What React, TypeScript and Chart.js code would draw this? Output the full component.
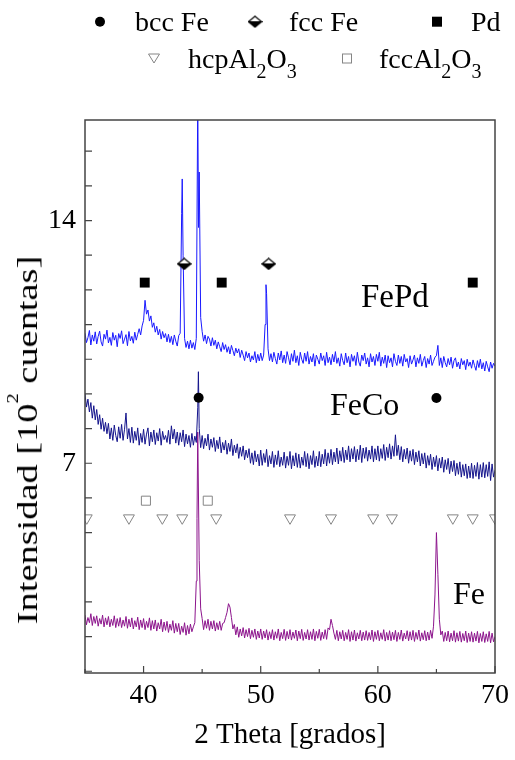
import React, { useEffect, useRef } from 'react';
import { Chart, registerables } from 'chart.js';

Chart.register(...registerables);

// ---- axes ----
const X_MIN = 35;
const X_MAX = 70;
const Y_MIN = 0.95;
const Y_MAX = 16.9;
const xTickValues = [35, 40, 45, 50, 55, 60, 65, 70];
const xTickLabels = ['', '40', '', '50', '', '60', '', '70'];
const yTickValues = [1, 2, 3, 4, 5, 6, 7, 8, 9, 10, 11, 12, 13, 14, 15, 16];
const yTickLabelValues = [7, 14];

// ---- scans (2θ from 35° in steps of 0.125°, one row per degree) ----
const scanStart = 35;
const scanStep = 0.125;

const fepdScan = [
  10.75, 10.48, 10.62, 10.83, 10.41, 10.70, 10.52, 10.79,
  10.44, 10.66, 10.81, 10.50, 10.38, 10.72, 10.58, 10.84,
  10.47, 10.63, 10.40, 10.77, 10.55, 10.69, 10.36, 10.74,
  10.60, 10.82, 10.45, 10.58, 10.71, 10.39, 10.80, 10.53,
  10.66, 10.46, 10.78, 10.55, 10.72, 10.88, 10.70, 10.96,
  11.12, 11.70, 11.30, 11.42, 11.10, 11.25, 10.92, 11.05,
  10.78, 10.95, 10.70, 10.86, 10.58, 10.80, 10.62, 10.74,
  10.50, 10.72, 10.48, 10.66, 10.42, 10.70, 10.52, 10.38,
  10.68, 10.75, 14.20, 13.00, 10.60, 10.34, 10.52, 10.30,
  10.55, 10.32, 10.48, 10.28, 10.60, 17.60, 15.40, 11.20,
  10.80, 10.52, 10.70, 10.45, 10.66, 10.58, 10.38, 10.62,
  10.40, 10.55, 10.30, 10.50, 10.36, 10.22, 10.48, 10.28,
  10.42, 10.20, 10.36, 10.15, 10.40, 10.25, 10.10, 10.32,
  10.18, 10.30, 10.05, 10.26, 10.12, 9.96, 10.22, 10.04,
  10.18, 9.92, 10.10, 9.98, 10.22, 9.90, 10.14, 9.95,
  10.18, 9.96, 10.12, 11.00, 11.90, 10.30, 9.96, 10.16,
  9.92, 10.20, 10.02, 9.86, 10.18, 9.98, 10.24, 9.90,
  10.12, 9.88, 10.22, 10.04, 9.84, 10.16, 9.94, 10.26,
  9.90, 10.10, 9.82, 10.20, 10.00, 9.88, 10.18, 9.94,
  10.22, 9.86, 10.08, 9.92, 10.16, 9.80, 10.12, 10.00,
  9.86, 10.18, 9.96, 10.10, 9.82, 10.20, 9.90, 10.06,
  9.84, 10.14, 9.92, 10.22, 9.88, 10.04, 9.80, 10.16,
  9.96, 9.84, 10.18, 9.90, 10.08, 9.78, 10.14, 9.94,
  10.10, 9.82, 10.20, 9.92, 9.80, 10.12, 9.96, 10.18,
  9.86, 10.04, 9.78, 10.16, 9.92, 10.08, 9.82, 10.14,
  9.94, 10.20, 9.80, 10.06, 9.88, 10.12, 9.76, 10.10,
  9.90, 10.04, 9.78, 10.16, 9.94, 9.82, 10.12, 9.88,
  10.08, 9.80, 10.14, 9.92, 10.02, 9.76, 10.10, 9.86,
  9.98, 10.12, 9.78, 10.04, 9.88, 10.14, 9.80, 9.96,
  10.08, 9.76, 10.02, 9.86, 10.12, 9.82, 9.94, 10.06,
  10.10, 10.40, 9.82, 10.04, 9.76, 10.08, 9.90, 9.78,
  10.02, 9.84, 10.06, 9.74, 9.96, 10.04, 9.78, 9.92,
  9.72, 10.02, 9.84, 9.96, 9.70, 10.00, 9.80, 9.92,
  9.74, 9.98, 9.82, 9.68, 9.96, 9.76, 10.00, 9.72,
  9.90, 9.66, 9.94, 9.78, 9.64, 9.92, 9.74, 9.88,
  9.80,
];
const fepdPeaks = [[43.3, 15.2], [44.69, 13.8], [50.45, 12.15]];

const fecoScan = [
  9.00, 8.62, 8.85, 8.48, 8.75, 8.30, 8.66, 8.25,
  8.55, 8.12, 8.40, 7.98, 8.30, 7.92, 8.18, 7.85,
  8.15, 7.70, 8.02, 7.66, 8.10, 7.80, 7.62, 8.05,
  7.72, 8.12, 7.66, 7.98, 8.45, 7.70, 8.00, 7.60,
  8.04, 7.58, 7.92, 7.66, 8.02, 7.52, 7.86, 7.60,
  7.98, 7.55, 7.84, 8.02, 7.50, 7.90, 7.62, 7.96,
  7.54, 7.88, 7.64, 8.00, 7.52, 7.92, 7.68, 7.80,
  7.60, 7.95, 7.55, 8.08, 7.70, 7.98, 7.58, 7.90,
  7.52, 7.88, 7.62, 7.96, 7.48, 7.84, 7.56, 7.80,
  7.46, 7.86, 7.52, 7.78, 7.60, 8.60, 8.00, 7.45,
  7.80, 7.42, 7.72, 7.50, 7.84, 7.38, 7.70, 7.46,
  7.74, 7.34, 7.66, 7.42, 7.76, 7.30, 7.60, 7.38,
  7.66, 7.26, 7.58, 7.34, 7.70, 7.22, 7.52, 7.30,
  7.56, 7.14, 7.46, 7.20, 7.50, 7.10, 7.38, 7.16,
  7.42, 7.00, 7.30, 6.96, 7.36, 7.04, 7.26, 6.92,
  7.38, 6.94, 7.28, 7.02, 7.40, 6.90, 7.22, 6.98,
  7.34, 6.88, 7.24, 6.96, 7.36, 6.90, 7.18, 6.94,
  7.32, 6.86, 7.20, 6.94, 7.34, 6.84, 7.22, 6.92,
  7.30, 6.88, 7.26, 6.86, 7.18, 6.94, 7.34, 6.90,
  7.28, 6.84, 7.22, 6.96, 7.36, 6.88, 7.20, 6.92,
  7.34, 6.90, 7.26, 6.98, 7.40, 6.92, 7.30, 7.00,
  7.40, 6.96, 7.32, 7.04, 7.44, 6.98, 7.36, 7.06,
  7.46, 7.02, 7.38, 7.10, 7.50, 7.04, 7.42, 7.12,
  7.48, 7.04, 7.40, 7.10, 7.52, 7.02, 7.44, 7.14,
  7.46, 7.06, 7.38, 7.12, 7.50, 7.04, 7.42, 7.10,
  7.50, 7.06, 7.42, 7.14, 7.54, 7.08, 7.46, 7.16,
  7.56, 7.12, 7.50, 7.20, 7.82, 7.22, 7.52, 7.10,
  7.48, 7.04, 7.40, 7.12, 7.44, 7.00, 7.36, 7.06,
  7.40, 6.96, 7.32, 7.04, 7.36, 6.92, 7.28, 6.98,
  7.30, 6.86, 7.22, 6.94, 7.26, 6.82, 7.18, 6.90,
  7.22, 6.78, 7.14, 6.86, 7.18, 6.74, 7.10, 6.82,
  7.14, 6.70, 7.06, 6.76, 7.08, 6.64, 7.00, 6.68,
  7.04, 6.60, 6.96, 6.64, 6.98, 6.56, 6.92, 6.58,
  7.00, 6.56, 6.94, 6.62, 7.02, 6.54, 6.96, 6.60,
  7.02, 6.58, 6.96, 6.62, 7.04, 6.50, 6.98, 6.60,
  6.80,
];
const fecoPeaks = [[44.68, 9.64]];

const feScan = [
  2.62, 2.34, 2.55, 2.40, 2.66, 2.32, 2.58, 2.38,
  2.60, 2.30, 2.52, 2.36, 2.62, 2.28, 2.54, 2.34,
  2.58, 2.28, 2.50, 2.32, 2.60, 2.26, 2.52, 2.30,
  2.55, 2.26, 2.48, 2.30, 2.58, 2.24, 2.50, 2.28,
  2.54, 2.22, 2.46, 2.28, 2.56, 2.20, 2.48, 2.26,
  2.52, 2.20, 2.44, 2.26, 2.54, 2.18, 2.46, 2.22,
  2.48, 2.16, 2.40, 2.22, 2.50, 2.14, 2.42, 2.18,
  2.44, 2.12, 2.36, 2.18, 2.46, 2.10, 2.38, 2.14,
  2.38, 2.06, 2.30, 2.12, 2.40, 2.04, 2.32, 2.08,
  2.36, 2.14, 2.28, 2.40, 3.60, 7.90, 4.20, 2.80,
  2.52, 2.20, 2.46, 2.24, 2.50, 2.18, 2.44, 2.22,
  2.46, 2.16, 2.40, 2.20, 2.44, 2.18, 2.38, 2.40,
  2.55, 2.70, 2.95, 2.85, 2.55, 2.22, 2.35, 2.05,
  2.28, 1.98, 2.22, 2.02, 2.26, 1.96, 2.20, 2.00,
  2.24, 1.94, 2.18, 1.98, 2.22, 1.92, 2.16, 1.96,
  2.22, 1.92, 2.16, 1.96, 2.20, 1.90, 2.14, 1.94,
  2.20, 1.90, 2.14, 1.95, 2.22, 1.88, 2.12, 1.94,
  2.21, 1.89, 2.15, 1.93, 2.20, 1.90, 2.13, 1.95,
  2.19, 1.88, 2.16, 1.94, 2.21, 1.89, 2.12, 1.93,
  2.20, 1.90, 2.14, 1.92, 2.22, 1.88, 2.15, 1.95,
  2.21, 1.89, 2.13, 1.94, 2.20, 1.92, 2.25, 2.20,
  2.50, 2.32, 2.10, 1.92, 2.18, 1.88, 2.14, 1.93,
  2.18, 1.88, 2.12, 1.92, 2.20, 1.86, 2.14, 1.90,
  2.19, 1.87, 2.11, 1.93, 2.18, 1.88, 2.13, 1.90,
  2.17, 1.89, 2.12, 1.91, 2.19, 1.86, 2.14, 1.92,
  2.18, 1.88, 2.11, 1.92, 2.20, 1.87, 2.12, 1.90,
  2.17, 1.88, 2.13, 1.91, 2.18, 1.86, 2.12, 1.92,
  2.19, 1.87, 2.10, 1.93, 2.17, 1.88, 2.14, 1.90,
  2.18, 1.86, 2.12, 1.92, 2.19, 1.87, 2.11, 1.91,
  2.17, 1.88, 2.13, 1.90, 2.18, 1.95, 2.30, 3.20,
  5.00, 3.80, 2.50, 2.05, 2.16, 1.86, 2.12, 1.88,
  2.16, 1.85, 2.10, 1.88, 2.17, 1.84, 2.11, 1.87,
  2.15, 1.84, 2.09, 1.88, 2.16, 1.83, 2.10, 1.86,
  2.14, 1.84, 2.10, 1.87, 2.15, 1.82, 2.09, 1.86,
  2.14, 1.83, 2.08, 1.86, 2.15, 1.82, 2.10, 1.85,
  2.00,
];
const fePeaks = [[44.56, 5.4]];

// ---- phase markers ----
const bccFeX = [44.7, 65.0];
const bccFeY = [8.89, 8.88];
const fccFeX = [43.47, 50.68];
const fccFeY = [12.75, 12.75];
const pdX = [40.1, 46.67, 68.1];
const pdY = [12.21, 12.21, 12.21];
const hcpAlX = [35.15, 38.75, 41.6, 43.3, 46.2, 52.5, 56.0, 59.6, 61.2, 66.4, 68.1, 70.0];
const hcpAlY = [5.42, 5.42, 5.42, 5.42, 5.42, 5.42, 5.42, 5.42, 5.42, 5.42, 5.42, 5.42];
const fccAlX = [40.2, 45.48];
const fccAlY = [5.92, 5.92];

const SERIF = '"Liberation Serif", "Times New Roman", serif';
const GRAY = '#858585';

function buildSeries(scan: number[], peaks: number[][]) {
  const pts = scan.map((y, i) => ({ x: +(scanStart + i * scanStep).toFixed(3), y }));
  peaks.forEach(([x, y]) => pts.push({ x, y }));
  pts.sort((a, b) => a.x - b.x);
  return pts;
}
const zip = (xs: number[], ys: number[]) => xs.map((x, i) => ({ x, y: ys[i] }));

function makeDiamond() {
  const c = document.createElement('canvas');
  c.width = 15;
  c.height = 13;
  const g = c.getContext('2d')!;
  const cx = 7.5, cy = 6.5, hw = 6.5, hh = 5.5;
  g.beginPath();
  g.moveTo(cx - hw, cy); g.lineTo(cx + hw, cy); g.lineTo(cx, cy + hh); g.closePath();
  g.fillStyle = '#000'; g.fill();
  g.strokeStyle = '#000'; g.lineWidth = 1.2; g.stroke();
  g.beginPath();
  g.moveTo(cx - hw, cy); g.lineTo(cx, cy - hh); g.lineTo(cx + hw, cy); g.closePath();
  g.fillStyle = '#fff'; g.fill();
  g.stroke();
  return c;
}

function makeFramePlugin(diamond: HTMLCanvasElement) {
  return {
    id: 'frameTicksLegend',
    afterDraw(chart: any) {
      const { ctx, chartArea: a, scales } = chart;
      ctx.save();
      ctx.strokeStyle = '#444';
      ctx.lineWidth = 1.5;
      ctx.strokeRect(a.left, a.top, a.right - a.left, a.bottom - a.top);
      ctx.lineWidth = 1.2;
      ctx.beginPath();
      xTickValues.forEach((v, i) => {
        const px = scales.x.getPixelForValue(v);
        const len = xTickLabels[i] ? 7 : 4;
        ctx.moveTo(px, a.bottom);
        ctx.lineTo(px, a.bottom - len);
      });
      yTickValues.forEach((v) => {
        const py = scales.y.getPixelForValue(v);
        ctx.moveTo(a.left, py);
        ctx.lineTo(a.left + 7, py);
      });
      ctx.stroke();

      // legend symbols
      ctx.fillStyle = '#000';
      ctx.beginPath();
      ctx.arc(100, 21.7, 5, 0, Math.PI * 2);
      ctx.fill();
      ctx.drawImage(diamond, 255 - 7.5, 21.7 - 6.5);
      ctx.fillRect(437 - 5, 21.7 - 5, 10, 10);

      ctx.strokeStyle = GRAY;
      ctx.lineWidth = 1;
      ctx.beginPath();
      ctx.moveTo(154 - 5.5, 58.5 - 4.5);
      ctx.lineTo(154 + 5.5, 58.5 - 4.5);
      ctx.lineTo(154, 58.5 + 4.5);
      ctx.closePath();
      ctx.stroke();
      ctx.strokeRect(347 - 4.5, 58.5 - 4.5, 9, 9);
      ctx.restore();
    },
  };
}

function Txt({ x, base, size, children }: { x: number; base: number; size: number; children: any }) {
  return (
    <div
      style={{
        position: 'absolute',
        left: x,
        top: base - 0.8375 * size,
        fontFamily: SERIF,
        fontSize: size,
        lineHeight: 1,
        whiteSpace: 'nowrap',
        color: '#000',
      }}
    >
      {children}
    </div>
  );
}

const Sub = ({ children }: { children: any }) => (
  <span style={{ fontSize: 20, position: 'relative', top: 10 }}>{children}</span>
);

export default function App() {
  const ref = useRef<HTMLCanvasElement>(null);

  useEffect(() => {
    document.body.style.margin = '0';
    const canvas = ref.current!;
    const diamond = makeDiamond();
    const lineDs = (label: string, data: any[], color: string, order: number) => ({
      label,
      data,
      showLine: true,
      borderColor: color,
      borderWidth: 1,
      pointRadius: 0,
      tension: 0,
      order,
    });
    const chart = new Chart(canvas, {
      type: 'scatter',
      data: {
        datasets: [
          lineDs('FePd', buildSeries(fepdScan, fepdPeaks), 'rgb(25,25,255)', 12),
          lineDs('Fe', buildSeries(feScan, fePeaks), 'rgb(140,20,140)', 11),
          lineDs('FeCo', buildSeries(fecoScan, fecoPeaks), 'rgb(20,20,140)', 10),
          {
            label: 'bcc Fe', data: zip(bccFeX, bccFeY), pointStyle: 'circle', pointRadius: 5,
            pointBackgroundColor: '#000', pointBorderColor: '#000', pointBorderWidth: 0, order: 0,
          },
          {
            label: 'fcc Fe', data: zip(fccFeX, fccFeY), pointStyle: diamond, pointRadius: 6, order: 0,
          },
          {
            label: 'Pd', data: zip(pdX, pdY), pointStyle: 'rect', pointRadius: 7,
            pointBackgroundColor: '#000', pointBorderColor: '#000', pointBorderWidth: 0, order: 0,
          },
          {
            label: 'hcpAl2O3', data: zip(hcpAlX, hcpAlY), pointStyle: 'triangle', pointRadius: 6.3,
            pointRotation: 180, pointBackgroundColor: '#fff', pointBorderColor: GRAY, pointBorderWidth: 1, order: 0,
          },
          {
            label: 'fccAl2O3', data: zip(fccAlX, fccAlY), pointStyle: 'rect', pointRadius: 6.4,
            pointBackgroundColor: '#fff', pointBorderColor: GRAY, pointBorderWidth: 1, order: 0,
          },
        ],
      },
      options: {
        animation: false,
        responsive: false,
        events: [],
        layout: { padding: { top: 120, right: 17, left: 0, bottom: 0 } },
        plugins: { legend: { display: false }, tooltip: { enabled: false } },
        scales: {
          x: {
            type: 'linear',
            min: X_MIN,
            max: X_MAX,
            afterFit: (s: any) => { s.height = 87; },
            afterBuildTicks: (s: any) => { s.ticks = xTickValues.map((v) => ({ value: v })); },
            grid: { display: false, drawTicks: false },
            border: { display: false },
            ticks: {
              padding: 6,
              color: '#000',
              font: { family: SERIF, size: 28 },
              maxRotation: 0,
              autoSkip: false,
              callback: (v: any) => xTickLabels[xTickValues.indexOf(Number(v))] ?? '',
            },
            title: {
              display: true,
              text: '2 Theta [grados]',
              color: '#000',
              font: { family: SERIF, size: 29 },
              padding: { top: 0, bottom: 7 },
            },
          },
          y: {
            type: 'linear',
            min: Y_MIN,
            max: Y_MAX,
            afterFit: (s: any) => { s.width = 85; },
            afterBuildTicks: (s: any) => { s.ticks = yTickValues.map((v) => ({ value: v })); },
            grid: { display: false, drawTicks: false },
            border: { display: false },
            ticks: {
              padding: 9,
              color: '#000',
              font: { family: SERIF, size: 28 },
              autoSkip: false,
              callback: (v: any) => (yTickLabelValues.includes(Number(v)) ? String(v) : ''),
            },
          },
        },
      },
      plugins: [makeFramePlugin(diamond)],
    } as any);
    return () => chart.destroy();
  }, []);

  return (
    <div style={{ position: 'relative', width: 515, height: 760, overflow: 'hidden', background: '#fff' }}>
      <canvas ref={ref} width={515} height={760} style={{ position: 'absolute', left: 0, top: 0, width: 515, height: 760 }} />
      <Txt x={135} base={31.7} size={28}>bcc Fe</Txt>
      <Txt x={289} base={31.7} size={28}>fcc Fe</Txt>
      <Txt x={471} base={31.7} size={28}>Pd</Txt>
      <Txt x={188} base={68.5} size={28}>hcpAl<Sub>2</Sub>O<Sub>3</Sub></Txt>
      <Txt x={379} base={68.5} size={28}>fccAl<Sub>2</Sub>O<Sub>3</Sub></Txt>
      <Txt x={361} base={307.7} size={33}>FePd</Txt>
      <Txt x={330} base={414.3} size={32}>FeCo</Txt>
      <Txt x={453} base={603.3} size={32}>Fe</Txt>
      <div
        style={{
          position: 'absolute',
          left: 27,
          top: 440,
          transform: 'translate(-50%, -50%) rotate(-90deg) scaleX(1.28)',
          fontFamily: SERIF,
          fontSize: 30,
          lineHeight: 1,
          whiteSpace: 'nowrap',
          color: '#000',
        }}
      >
        Intensidad [10<span style={{ fontSize: 16, position: 'relative', top: -19 }}>2</span> cuentas]
      </div>
    </div>
  );
}
